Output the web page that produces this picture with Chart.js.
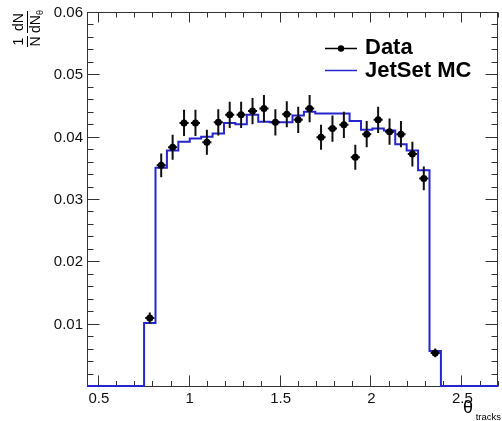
<!DOCTYPE html>
<html>
<head>
<meta charset="utf-8">
<script src="https://cdn.jsdelivr.net/npm/chart.js@4.4.1/dist/chart.umd.min.js"></script>
<style>
  html, body { margin: 0; padding: 0; background: #fff; }
  #wrap { width: 502px; height: 421px; position: relative; }
</style>
</head>
<body>
<div id="wrap"><canvas id="c" width="502" height="421"></canvas></div>
<script>
// Polar-angle histogram: 50 bins over [0, pi]
const binWidth = Math.PI / 50;
const firstBin = 12;            // first filled bin
const axisRangeBins = [7, 43];  // shown axis range, in bin edges

// Measured distribution (1/N dN/dtheta) with statistical errors
const dataValues = [0.0109, 0.0354, 0.0383, 0.0422, 0.0422, 0.0391, 0.0423, 0.0435, 0.0435,
                    0.0441, 0.0445, 0.0423, 0.0436, 0.0427, 0.0445, 0.0399, 0.0413, 0.0419,
                    0.0367, 0.0404, 0.0427, 0.0408, 0.0404, 0.0372, 0.0333, 0.0053];
const dataErrors = [0.0009, 0.0019, 0.0020, 0.0021, 0.0021, 0.0020, 0.0021, 0.0021, 0.0021,
                    0.0021, 0.0022, 0.0021, 0.0021, 0.0021, 0.0022, 0.0020, 0.0021, 0.0021,
                    0.0020, 0.0021, 0.0021, 0.0021, 0.0021, 0.0020, 0.0019, 0.0007];
// JetSet Monte Carlo prediction, same binning
const mcValues = [0.0101, 0.0350, 0.0378, 0.0392, 0.0397, 0.0400, 0.0405, 0.0422, 0.0420,
                  0.0435, 0.0424, 0.0423, 0.0423, 0.0434, 0.0440, 0.0437, 0.0437, 0.0437,
                  0.0425, 0.0411, 0.0413, 0.0410, 0.0388, 0.0378, 0.0346, 0.0056];

const xTicks = [0.5, 1, 1.5, 2, 2.5];
const xTickLabels = ['0.5', '1', '1.5', '2', '2.5'];
const yTicks = [0.01, 0.02, 0.03, 0.04, 0.05, 0.06];
const yTickLabels = ['0.01', '0.02', '0.03', '0.04', '0.05', '0.06'];
const seriesNames = ['Data', 'JetSet MC'];

const FONT = "'Liberation Sans', Arial, Helvetica, sans-serif";
const MC_BLUE = '#2626cc';

// Data points at bin centres
const dataPoints = dataValues.map((v, i) => ({ x: (firstBin + i + 0.5) * binWidth, y: v }));

// MC histogram outline: one point per bin edge, each carrying the content of the bin to its left
const mcPoints = [];
for (let k = axisRangeBins[0]; k <= axisRangeBins[1]; k++) {
  const i = k - 1 - firstBin;
  const v = (i >= 0 && i < mcValues.length) ? mcValues[i] : 0;
  mcPoints.push({ x: k * binWidth, y: v });
}

// Frame, ticks and tick labels in ROOT style
const axesPlugin = {
  id: 'rootAxes',
  beforeDatasetsDraw(chart) {
    const { ctx, chartArea: a, scales: { x, y } } = chart;
    ctx.save();
    ctx.strokeStyle = '#333';
    ctx.lineWidth = 1;
    const L = a.left + 0.5, R = a.right - 0.5, T = a.top + 0.5, B = a.bottom + 0.5;
    ctx.strokeRect(L, T, R - L, B - T);

    ctx.beginPath();
    // y ticks every 0.002, major every 0.01
    for (let j = 0; j <= 30; j++) {
      const py = Math.round(y.getPixelForValue(j * 0.002)) + 0.5;
      const major = j % 5 === 0;
      const len = major ? 12 : 6;
      ctx.moveTo(L, py); ctx.lineTo(L + len, py);
      ctx.moveTo(R, py); ctx.lineTo(R - len, py);
    }
    // x ticks every 0.1, major every 0.5
    for (let j = 5; j <= 27; j++) {
      const px = Math.round(x.getPixelForValue(j / 10)) + 0.5;
      const major = j % 5 === 0;
      ctx.moveTo(px, B); ctx.lineTo(px, B - (major ? 11 : 5.5));
      ctx.moveTo(px, T); ctx.lineTo(px, T + (major ? 10 : 5));
    }
    ctx.stroke();

    ctx.fillStyle = '#111';
    ctx.font = '15px ' + FONT;
    ctx.textAlign = 'right';
    ctx.textBaseline = 'middle';
    yTicks.forEach((v, i) => ctx.fillText(yTickLabels[i], a.left - 4, y.getPixelForValue(v) + 1));
    ctx.textAlign = 'center';
    ctx.textBaseline = 'alphabetic';
    xTicks.forEach((v, i) => ctx.fillText(xTickLabels[i], x.getPixelForValue(v) + 1, 403));
    ctx.restore();
  },
  beforeDatasetDraw(chart, args) {
    if (args.index !== 0) return;
    // error bars for the data points
    const { ctx, scales: { x, y } } = chart;
    ctx.save();
    ctx.strokeStyle = '#111';
    ctx.lineWidth = 2;
    ctx.beginPath();
    dataPoints.forEach((p, i) => {
      const px = x.getPixelForValue(p.x);
      const y0 = y.getPixelForValue(p.y - dataErrors[i]);
      const y1 = y.getPixelForValue(p.y + dataErrors[i]);
      const xl = x.getPixelForValue(p.x - 0.4 * binWidth);
      const xr = x.getPixelForValue(p.x + 0.4 * binWidth);
      const py = y.getPixelForValue(p.y);
      ctx.moveTo(px, y0); ctx.lineTo(px, y1);
      ctx.moveTo(xl, py); ctx.lineTo(xr, py);
    });
    ctx.stroke();
    ctx.restore();
  },
  afterDraw(chart) {
    const { ctx } = chart;
    ctx.save();
    ctx.fillStyle = '#000';

    // legend
    ctx.lineWidth = 1.5;
    ctx.strokeStyle = '#000';
    ctx.beginPath(); ctx.moveTo(325, 48.5); ctx.lineTo(357, 48.5); ctx.stroke();
    ctx.beginPath(); ctx.arc(341, 48.5, 3.2, 0, Math.PI * 2); ctx.fill();
    ctx.strokeStyle = MC_BLUE;
    ctx.beginPath(); ctx.moveTo(325, 70.5); ctx.lineTo(357, 70.5); ctx.stroke();
    ctx.font = 'bold 22px ' + FONT;
    ctx.textAlign = 'left';
    ctx.textBaseline = 'alphabetic';
    ctx.fillText(seriesNames[0], 365, 53.5);
    ctx.fillText(seriesNames[1], 365, 76.5);

    // x-axis title
    ctx.font = '18px ' + FONT;
    ctx.fillText('θ', 463, 413);
    ctx.font = '9.5px ' + FONT;
    ctx.textAlign = 'right';
    ctx.fillText('tracks', 501, 420);

    // y-axis title: 1/N dN/dN_θ, rotated
    ctx.translate(27, 48);
    ctx.rotate(-Math.PI / 2);
    ctx.strokeStyle = '#000';
    ctx.lineWidth = 1;
    ctx.font = '14px ' + FONT;
    ctx.textAlign = 'center';
    ctx.textBaseline = 'middle';
    ctx.beginPath();
    ctx.moveTo(1, 0.5); ctx.lineTo(12, 0.5);
    ctx.moveTo(15, 0.5); ctx.lineTo(37, 0.5);
    ctx.stroke();
    ctx.fillText('1', 6.5, -8);
    ctx.fillText('N', 6.5, 9);
    ctx.fillText('dN', 26, -8);
    ctx.fillText('dN', 24, 9);
    ctx.font = '9px ' + FONT;
    ctx.fillText('θ', 35.5, 14);
    ctx.restore();
  }
};

new Chart(document.getElementById('c'), {
  type: 'scatter',
  data: {
    datasets: [
      {
        label: seriesNames[0],
        data: dataPoints,
        showLine: false,
        pointRadius: 3.5,
        pointBackgroundColor: '#000',
        pointBorderWidth: 0,
        order: 0
      },
      {
        label: seriesNames[1],
        type: 'line',
        data: mcPoints,
        stepped: 'after',
        borderColor: MC_BLUE,
        borderWidth: 2,
        pointRadius: 0,
        fill: false,
        clip: 4,
        order: 1
      }
    ]
  },
  options: {
    responsive: false,
    animation: false,
    events: [],
    layout: { padding: { left: 87, right: 1, top: 12, bottom: 35 } },
    scales: {
      x: { type: 'linear', display: false,
           min: axisRangeBins[0] * binWidth, max: axisRangeBins[1] * binWidth },
      y: { type: 'linear', display: false, min: 0, max: 0.06 }
    },
    plugins: { legend: { display: false }, tooltip: { enabled: false } }
  },
  plugins: [axesPlugin]
});
</script>
</body>
</html>
